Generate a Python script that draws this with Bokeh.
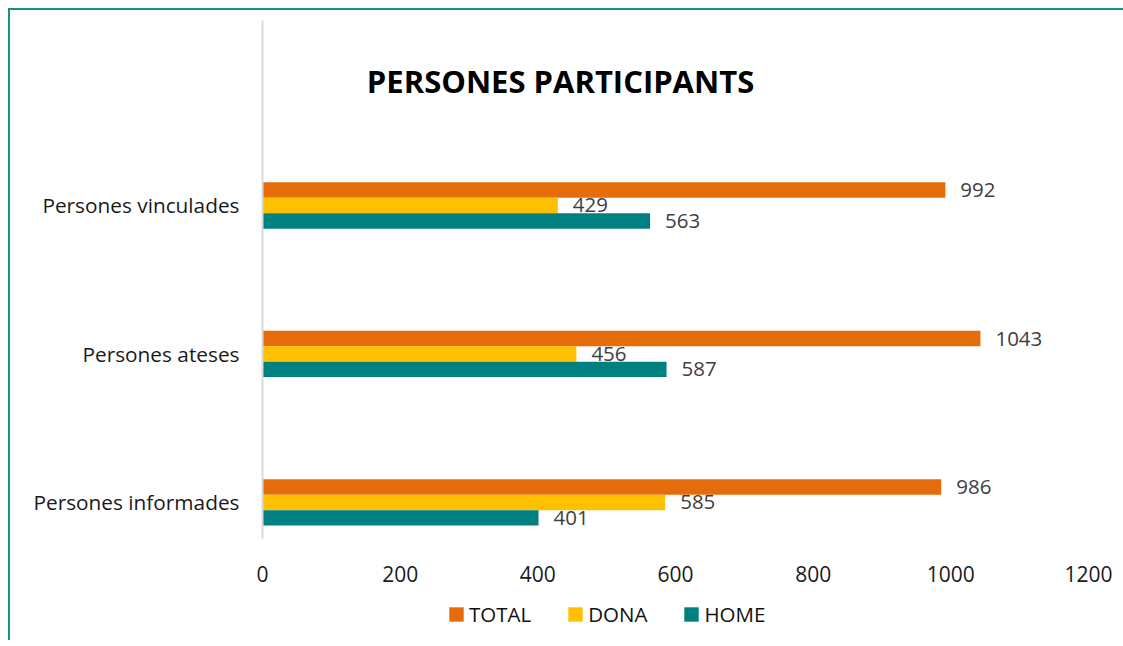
from bokeh.plotting import figure
from bokeh.layouts import column
from bokeh.models import ColumnDataSource, LabelSet, Label, Legend, LegendItem, FixedTicker, Range1d
from bokeh.core.properties import value
from bokeh.embed import file_html
from bokeh.resources import INLINE

categories = ["Persones informades", "Persones ateses", "Persones vinculades"]
total = [986, 1043, 992]
dona = [585, 456, 429]
home = [401, 587, 563]
series_names = ["TOTAL", "DONA", "HOME"]
colors = ["#E46C0A", "#FFC000", "#008080"]
x_ticks = [0, 200, 400, 600, 800, 1000, 1200]

FONT = "Open Sans"
bar_h = 0.104
offsets = [bar_h, 0.0, -bar_h]

p = figure(width=1113, height=586, output_backend="svg", toolbar_location=None,
           x_range=Range1d(0, 1200), y_range=Range1d(-0.243, 3.246),
           min_border_left=252, min_border_right=35, min_border_top=10, min_border_bottom=58)
p.outline_line_color = None
p.xgrid.visible = False
p.ygrid.visible = False
p.background_fill_color = "white"
p.border_fill_color = "white"

for vals, name, col, off in zip([total, dona, home], series_names, colors, offsets):
    ys = [i + off for i in range(len(categories))]
    src = ColumnDataSource(dict(y=ys, v=vals, t=[str(v) for v in vals]))
    p.hbar(y="y", right="v", left=0, height=bar_h, source=src, fill_color=col, line_color=None)
    labels = LabelSet(x="v", y="y", text="t", source=src, x_offset=15, text_baseline="middle",
                      text_font=value(FONT), text_font_size=value("20.5px"), text_color="#404040")
    p.add_layout(labels)

# axes
p.xaxis.ticker = FixedTicker(ticks=x_ticks)
p.xaxis.axis_line_color = None
p.xaxis.major_tick_line_color = None
p.xaxis.minor_tick_line_color = None
p.xaxis.major_label_standoff = 21
p.xaxis.major_label_text_font = FONT
p.xaxis.major_label_text_font_size = "21px"
p.xaxis.major_label_text_color = "#1a1a1a"

p.yaxis.ticker = FixedTicker(ticks=list(range(len(categories))))
p.yaxis.major_label_overrides = {i: c for i, c in enumerate(categories)}
p.yaxis.axis_line_color = "#d9d9d9"
p.yaxis.axis_line_width = 2
p.yaxis.major_tick_line_color = None
p.yaxis.minor_tick_line_color = None
p.yaxis.major_label_standoff = 17
p.yaxis.major_label_text_font = FONT
p.yaxis.major_label_text_font_size = "20.8px"
p.yaxis.major_label_text_color = "#1a1a1a"

title = Label(x=433, y=2.84, text="PERSONES PARTICIPANTS", text_align="center", text_baseline="middle",
              text_font=FONT, text_font_size="31px", text_font_style="bold", text_color="#000000")
p.add_layout(title)

# legend strip (frame is aligned with the main plot's frame by the column layout)
leg = figure(width=1113, height=44, output_backend="svg", toolbar_location=None,
             x_range=Range1d(0, 1), y_range=Range1d(0, 1), x_axis_type=None, y_axis_type=None,
             min_border=0)
leg.outline_line_color = None
leg.xgrid.visible = False
leg.ygrid.visible = False
leg_renderers = []
for name, col in zip(series_names, colors):
    r = leg.hbar(y=[5], right=[0], left=0, height=0.1, fill_color=col, line_color=None)
    leg_renderers.append((name, r))

legend = Legend(items=[LegendItem(label=n, renderers=[r]) for n, r in leg_renderers],
                orientation="horizontal", location=(185, 12),
                glyph_width=18, glyph_height=18, label_standoff=4, spacing=35,
                padding=0, margin=0, border_line_color=None, background_fill_alpha=0,
                label_text_font=FONT, label_text_font_size="20.5px", label_text_color="#111111",
                label_height=18)
leg.add_layout(legend, "center")

layout = column(p, leg, spacing=0)
layout.styles = {"border-left": "2px solid #179189", "border-top": "2px solid #179189",
                 "margin-left": "8px", "margin-top": "8px"}

open("out.html", "w").write(file_html(layout, INLINE))
